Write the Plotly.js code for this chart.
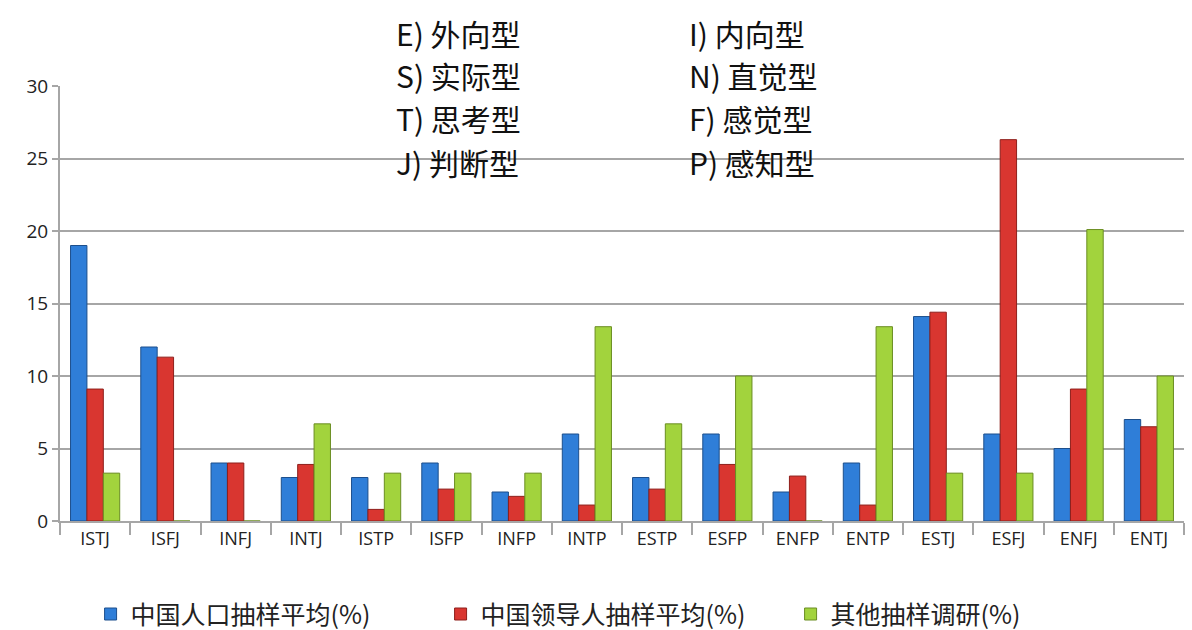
<!DOCTYPE html>
<html>
<head>
<meta charset="utf-8">
<script src="https://cdn.plot.ly/plotly-3.0.1.min.js"></script>
<style>html,body{margin:0;padding:0;background:#fff;}#chart{width:1192px;height:630px;}</style>
</head>
<body>
<div id="chart"></div>
<script>
const categories = ["ISTJ","ISFJ","INFJ","INTJ","ISTP","ISFP","INFP","INTP","ESTP","ESFP","ENFP","ENTP","ESTJ","ESFJ","ENFJ","ENTJ"];
const seriesNames = ["中国人口抽样平均(%)","中国领导人抽样平均(%)","其他抽样调研(%)"];
const chinaPopulation = [19, 12, 4, 3, 3, 4, 2, 6, 3, 6, 2, 4, 14.1, 6, 5, 7];
const chinaLeaders = [9.1, 11.3, 4, 3.9, 0.8, 2.2, 1.7, 1.1, 2.2, 3.9, 3.1, 1.1, 14.4, 26.3, 9.1, 6.5];
const otherSurveys = [3.3, 0, 0, 6.7, 3.3, 3.3, 3.3, 13.4, 6.7, 10, 0, 13.4, 3.3, 3.3, 20.1, 10];
const yTicks = [0, 5, 10, 15, 20, 25, 30];
const legendLeft = ["E) 外向型","S) 实际型","T) 思考型","J) 判断型"];
const legendRight = ["I) 内向型","N) 直觉型","F) 感觉型","P) 感知型"];

const colors = ["#2f7ed8", "#d93630", "#a2d33d"];
const edges = ["#1d4f8c", "#8e1f1b", "#6a8d22"];
const seriesValues = [chinaPopulation, chinaLeaders, otherSurveys];

const traces = seriesValues.map((vals, i) => ({
  type: "bar",
  name: seriesNames[i],
  x: categories,
  y: vals,
  marker: {color: colors[i], line: {color: edges[i], width: 1}},
  hoverinfo: "x+y+name"
}));

const rowY = [1.122, 1.025, 0.926, 0.825];
const annotations = [];
legendLeft.forEach((t, i) => annotations.push({
  text: t, xref: "paper", yref: "paper", x: 0.297, y: rowY[i], xanchor: "left", yanchor: "middle",
  showarrow: false, font: {size: 30, color: "#111", family: "Noto Sans CJK SC, sans-serif"}
}));
legendRight.forEach((t, i) => annotations.push({
  text: t, xref: "paper", yref: "paper", x: 0.558, y: rowY[i], xanchor: "left", yanchor: "middle",
  showarrow: false, font: {size: 30, color: "#111", family: "Noto Sans CJK SC, sans-serif"}
}));

const layout = {
  width: 1192, height: 630,
  margin: {l: 60, r: 8, t: 86, b: 109, autoexpand: false},
  paper_bgcolor: "#fff", plot_bgcolor: "#fff",
  barmode: "group", bargap: 0.3, bargroupgap: 0,
  showlegend: true,
  legend: {orientation: "h", xref: "container", yref: "container", x: 0.076, xanchor: "left", y: 0.025, yanchor: "middle",
    entrywidth: 305, entrywidthmode: "pixels",
    font: {size: 25, family: "Noto Sans CJK SC, serif", color: "#222"}, itemwidth: 30, traceorder: "normal"},
  xaxis: {
    type: "category", tickfont: {size: 18, family: "Open Sans, sans-serif", color: "#222"},
    showline: true, linecolor: "#a6a6a6", linewidth: 2,
    ticks: "outside", ticklen: 12, tickcolor: "#a6a6a6", tickwidth: 2, tickson: "boundaries",
    showgrid: false, fixedrange: true
  },
  yaxis: {
    range: [0, 30], tickvals: yTicks, ticktext: yTicks.map(String),
    tickfont: {size: 19, family: "Open Sans, sans-serif", color: "#222"},
    showline: true, linecolor: "#a6a6a6", linewidth: 2,
    ticks: "outside", ticklen: 6, tickcolor: "#a6a6a6", tickwidth: 2,
    showgrid: true, gridcolor: "#a6a6a6", gridwidth: 2, zeroline: false, fixedrange: true
  },
  annotations: annotations
};

Plotly.newPlot("chart", traces, layout, {displayModeBar: false});
</script>
</body>
</html>
